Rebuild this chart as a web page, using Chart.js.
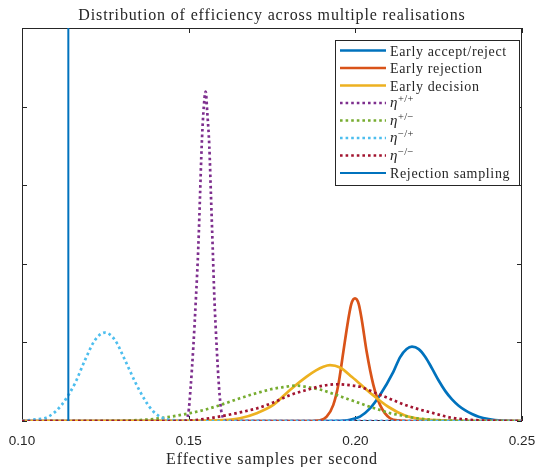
<!DOCTYPE html>
<html>
<head>
<meta charset="utf-8">
<script src="https://cdn.jsdelivr.net/npm/chart.js@4.4.1/dist/chart.umd.min.js"></script>
<style>
  html, body { margin: 0; padding: 0; background: #fff; }
  #wrap { width: 538px; height: 467px; }
</style>
</head>
<body>
<div id="wrap"><canvas id="eff-chart" width="538" height="467"></canvas></div>
<script>
// Axis ticks (y ticks are drawn as marks only, no labels)
const xTicks = [0.10, 0.15, 0.20, 0.25];
const yTicks = [0, 20, 40, 60, 80, 100];

const chartTitle = 'Distribution of efficiency across multiple realisations';
const xAxisTitle = 'Effective samples per second';
const seriesLabels = [
  'Early accept/reject', 'Early rejection', 'Early decision',
  'η^+/+', 'η^+/−', 'η^−/+', 'η^−/−', 'Rejection sampling'
];

// Density curves, x = effective samples per second
const acceptRejectX = [0.100, 0.190, 0.1969, 0.1984, 0.2014, 0.2044, 0.2074, 0.2114, 0.2134, 0.2154, 0.2170, 0.2190, 0.2210, 0.2230, 0.2250, 0.2270, 0.2290, 0.2310, 0.2330, 0.2350, 0.2370, 0.2400, 0.2440, 0.2480, 0.250];
const acceptRejectY = [0, 0, 0.1, 0.3, 1.1, 3.2, 6.6, 12.5, 16.2, 18.3, 18.9, 18.3, 16.3, 13.4, 10.3, 7.6, 5.5, 3.9, 2.7, 1.8, 1.1, 0.5, 0.1, 0, 0];

const rejectionX = [0.100, 0.1860, 0.1894, 0.1914, 0.1934, 0.1949, 0.1964, 0.1978, 0.1988, 0.1999, 0.2010, 0.2020, 0.2034, 0.2054, 0.2074, 0.2104, 0.2134, 0.2160, 0.250];
const rejectionY = [0, 0, 0.2, 1.1, 4.1, 9.2, 17.6, 25.4, 29.8, 31.2, 29.8, 25.4, 17.6, 9.2, 4.1, 0.7, 0.1, 0, 0];

const decisionX = [0.100, 0.1534, 0.1603, 0.1654, 0.1704, 0.1754, 0.1804, 0.1854, 0.1882, 0.1904, 0.1924, 0.1954, 0.1990, 0.2044, 0.2101, 0.2149, 0.2197, 0.2248, 0.2314, 0.250];
const decisionY = [0, 0.05, 0.2, 0.7, 2.0, 4.1, 7.9, 11.3, 12.9, 13.8, 14.2, 13.6, 11.2, 7.2, 3.5, 1.4, 0.5, 0.2, 0, 0];

const etaPPX = [0.100, 0.1486, 0.1499, 0.1506, 0.1514, 0.1522, 0.1529, 0.1534, 0.1539, 0.1544, 0.1551, 0.1556, 0.1562, 0.1567, 0.1572, 0.1577, 0.1584, 0.1591, 0.1599, 0.1615, 0.250];
const etaPPY = [0, 0, 2.0, 8.7, 18.9, 31.6, 44.4, 57.1, 69.8, 78.3, 83.8, 78.3, 69.8, 57.1, 44.4, 31.6, 18.9, 8.7, 2.0, 0, 0];

const etaPMX = [0.100, 0.1234, 0.1294, 0.1354, 0.1414, 0.1504, 0.1554, 0.1603, 0.1654, 0.1704, 0.1754, 0.1783, 0.1822, 0.1864, 0.1894, 0.1924, 0.1954, 0.1984, 0.2014, 0.2044, 0.2074, 0.2104, 0.2134, 0.2184, 0.2233, 0.2284, 0.2344, 0.250];
const etaPMY = [0, 0, 0.05, 0.25, 0.7, 2.0, 3.0, 4.3, 5.8, 7.1, 8.2, 8.6, 9.0, 8.5, 8.0, 7.2, 6.3, 5.4, 4.5, 3.6, 2.8, 2.0, 1.5, 0.7, 0.3, 0.1, 0, 0];

const etaMPX = [0.100, 0.1039, 0.1079, 0.1119, 0.1159, 0.1189, 0.1219, 0.1249, 0.1279, 0.1309, 0.1339, 0.1369, 0.1394, 0.1424, 0.1453, 0.1504, 0.250];
const etaMPY = [0, 0.4, 1.1, 4.1, 9.6, 15.5, 20.6, 22.5, 20.6, 15.5, 10.0, 5.3, 2.4, 0.7, 0.2, 0, 0];

const etaMMX = [0.100, 0.1453, 0.1504, 0.1554, 0.1603, 0.1654, 0.1704, 0.1754, 0.1804, 0.1854, 0.1904, 0.1948, 0.1984, 0.2014, 0.2064, 0.2114, 0.2146, 0.2194, 0.2234, 0.2284, 0.2334, 0.2383, 0.2434, 0.250];
const etaMMY = [0, 0, 0.1, 0.6, 1.3, 2.2, 3.2, 4.7, 6.6, 7.9, 9.0, 9.35, 9.1, 8.7, 7.0, 5.3, 4.2, 2.9, 2.0, 0.9, 0.4, 0.1, 0, 0];

// Rejection sampling gives a single rate, drawn as a vertical line
const rejectionSamplingRate = 0.1139;

const colors = ['#0072BD', '#D95319', '#EDB120', '#7E2F8E', '#77AC30', '#4DBEEE', '#A2142F', '#0072BD'];
const axisColor = '#262626';
const serif = '"Liberation Serif", "Times New Roman", serif';
const dotted = [2.6, 3];

function toPoints(xs, ys) {
  return xs.map((x, i) => ({ x: x, y: ys[i] }));
}

const curves = [
  [acceptRejectX, acceptRejectY, false],
  [rejectionX, rejectionY, false],
  [decisionX, decisionY, false],
  [etaPPX, etaPPY, true],
  [etaPMX, etaPMY, true],
  [etaMPX, etaMPY, true],
  [etaMMX, etaMMY, true]
];

const datasets = curves.map(([xs, ys, isDotted], i) => ({
  label: seriesLabels[i],
  data: toPoints(xs, ys),
  borderColor: colors[i],
  borderWidth: 2.7,
  borderDash: isDotted ? dotted : [],
  cubicInterpolationMode: 'monotone',
  pointRadius: 0,
  order: seriesLabels.length - i
}));

datasets.push({
  label: seriesLabels[7],
  data: [{ x: rejectionSamplingRate, y: yTicks[0] }, { x: rejectionSamplingRate, y: yTicks[yTicks.length - 1] }],
  borderColor: colors[7],
  borderWidth: 2,
  pointRadius: 0,
  order: 0
});

function spacedText(ctx, text, x, y, font, spacing, align) {
  ctx.font = font;
  ctx.letterSpacing = spacing + 'px';
  ctx.textAlign = align;
  ctx.textBaseline = 'alphabetic';
  ctx.fillText(text, x, y);
  ctx.letterSpacing = '0px';
}

// Box around the axes with inward tick marks on all four sides, plus titles
const frameTicks = {
  id: 'frameTicks',
  beforeDatasetsDraw(chart) {
    const { ctx, chartArea: a, scales } = chart;
    ctx.save();
    ctx.strokeStyle = axisColor;
    ctx.lineWidth = 1;
    ctx.strokeRect(a.left + 0.5, a.top + 0.5, a.width - 1, a.height - 1);
    ctx.beginPath();
    xTicks.forEach(v => {
      const px = Math.round(scales.x.getPixelForValue(v)) + 0.5;
      ctx.moveTo(px, a.bottom); ctx.lineTo(px, a.bottom - 5);
      ctx.moveTo(px, a.top); ctx.lineTo(px, a.top + 5);
    });
    yTicks.forEach(v => {
      const py = Math.round(scales.y.getPixelForValue(v)) + 0.5;
      ctx.moveTo(a.left, py); ctx.lineTo(a.left + 5, py);
      ctx.moveTo(a.right, py); ctx.lineTo(a.right - 5, py);
    });
    ctx.stroke();

    const cx = (a.left + a.right) / 2;
    ctx.fillStyle = axisColor;
    spacedText(ctx, chartTitle, cx, 19.5, '16px ' + serif, 0.85, 'center');
    spacedText(ctx, xAxisTitle, cx, 463.5, '16px ' + serif, 0.9, 'center');
    ctx.restore();
  }
};

// Legend box in the top right corner, eta labels get superscripts
const boxLegend = {
  id: 'boxLegend',
  afterDatasetsDraw(chart) {
    const { ctx } = chart;
    const left = 335.5, top = 40.5, w = 184, h = 145;
    ctx.save();
    ctx.fillStyle = '#fff';
    ctx.fillRect(left, top, w, h);
    ctx.strokeStyle = axisColor;
    ctx.lineWidth = 1;
    ctx.strokeRect(left, top, w, h);
    chart.data.datasets.forEach((ds, i) => {
      const y = 50.5 + i * 17.5;
      ctx.beginPath();
      ctx.strokeStyle = ds.borderColor;
      ctx.lineWidth = ds.borderWidth;
      ctx.setLineDash(ds.borderDash || []);
      ctx.moveTo(340, y);
      ctx.lineTo(386, y);
      ctx.stroke();
      ctx.setLineDash([]);
      ctx.fillStyle = axisColor;
      const parts = ds.label.split('^');
      if (parts.length === 2) {
        spacedText(ctx, parts[0], 390, y + 4, 'italic 15px ' + serif, 0, 'left');
        const w0 = ctx.measureText(parts[0]).width;
        spacedText(ctx, parts[1], 390 + w0 + 0.5, y - 1, '10.5px ' + serif, 0.3, 'left');
      } else {
        spacedText(ctx, ds.label, 390, y + 5, '14px ' + serif, 0.65, 'left');
      }
    });
    ctx.restore();
  }
};

new Chart(document.getElementById('eff-chart'), {
  type: 'line',
  data: { datasets: datasets },
  options: {
    responsive: false,
    animation: false,
    events: [],
    layout: { padding: { left: 22, right: 16, top: 28, bottom: 0 } },
    plugins: {
      legend: { display: false },
      tooltip: { enabled: false },
      title: { display: false }
    },
    scales: {
      x: {
        type: 'linear',
        min: xTicks[0],
        max: xTicks[xTicks.length - 1],
        afterBuildTicks: scale => { scale.ticks = xTicks.map(v => ({ value: v })); },
        afterFit: scale => {
          scale.height = 46;
          scale.paddingLeft = 0;
          scale.paddingRight = 0;
        },
        ticks: {
          callback: v => v.toFixed(2),
          color: axisColor,
          font: { family: '"Liberation Sans", Arial, sans-serif', size: 13.5 },
          padding: 12,
          maxRotation: 0
        },
        grid: { display: false, drawTicks: false },
        border: { display: false },
        title: { display: false }
      },
      y: {
        display: false,
        min: yTicks[0],
        max: yTicks[yTicks.length - 1]
      }
    }
  },
  plugins: [frameTicks, boxLegend]
});
</script>
</body>
</html>
